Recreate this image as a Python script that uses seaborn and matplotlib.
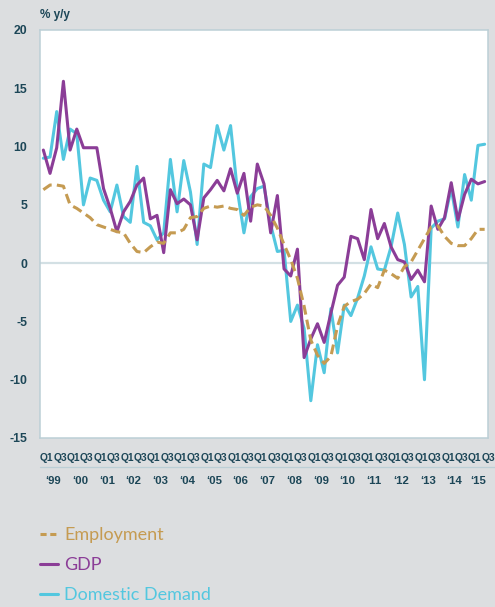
import numpy as np
import pandas as pd
import matplotlib
matplotlib.use("Agg")
import matplotlib.pyplot as plt
import seaborn as sns
from matplotlib.lines import Line2D

# quarterly data, Q1 1999 .. Q3 2015
years = list(range(1999, 2016))
quarters = [f"Q{q} {y}" for y in years for q in range(1, 5)][:67]

employment = [6.3, 6.7, 6.7, 6.6, 5.0, 4.7, 4.3, 3.9, 3.3, 3.1, 2.9, 2.7, 2.6, 1.7, 1.0, 0.9,
              1.4, 1.8, 1.7, 2.6, 2.6, 2.9, 3.9, 4.0, 4.7, 4.9, 4.8, 4.9, 4.7, 4.6, 4.1, 4.8,
              5.0, 4.9, 4.1, 3.0, 1.6, 0.3, -1.3, -3.7, -6.6, -7.9, -8.6, -8.0, -5.4, -3.7, -3.3, -3.1,
              -2.6, -1.8, -2.1, -0.6, -0.9, -1.3, -0.3, 0.1, 1.1, 2.1, 3.1, 3.2, 2.3, 1.7, 1.5, 1.5,
              2.1, 2.9, 2.9]
gdp = [9.7, 7.7, 9.9, 15.6, 9.7, 11.5, 9.9, 9.9, 9.9, 6.4, 4.7, 2.7, 4.4, 5.3, 6.7, 7.3,
       3.8, 4.1, 0.9, 6.3, 5.1, 5.5, 5.0, 2.0, 5.6, 6.3, 7.1, 6.2, 8.1, 6.0, 7.7, 3.6,
       8.5, 6.8, 2.6, 5.8, -0.5, -1.1, 1.2, -8.1, -6.5, -5.2, -6.8, -4.3, -1.9, -1.2, 2.3, 2.1,
       0.3, 4.6, 2.1, 3.4, 1.4, 0.3, 0.1, -1.4, -0.6, -1.6, 4.9, 2.9, 3.9, 6.9, 3.7, 5.9,
       7.2, 6.8, 7.0]
domestic_demand = [9.0, 9.1, 13.0, 8.9, 11.5, 11.1, 5.0, 7.3, 7.1, 5.4, 4.4, 6.7, 4.0, 3.5, 8.3, 3.5,
                   3.2, 2.0, 2.6, 8.9, 4.4, 8.8, 6.1, 1.6, 8.5, 8.2, 11.8, 9.7, 11.8, 6.3, 2.6, 5.7,
                   6.4, 6.6, 3.3, 1.0, 1.1, -5.0, -3.6, -5.6, -11.8, -7.0, -9.4, -3.9, -7.7, -3.6, -4.5, -3.0,
                   -1.1, 1.4, -0.5, -0.6, 1.4, 4.3, 1.6, -2.9, -2.0, -10.0, 3.0, 3.6, 3.8, 6.4, 3.1, 7.6,
                   5.4, 10.1, 10.2]

series = ["Employment", "GDP", "Domestic Demand"]
palette = {"Employment": "#c59b52", "GDP": "#8b3d97", "Domestic Demand": "#53c7df"}
y_ticks = [-15, -10, -5, 0, 5, 10, 15, 20]

bg = "#dcdee0"
txt = "#1c4657"
axis_col = "#bccfd6"

sns.set_style("white")
plt.rcParams["font.family"] = ["Liberation Sans", "DejaVu Sans"]

df = pd.DataFrame({"quarter": quarters, "pos": np.arange(len(quarters)),
                   "Employment": employment, "GDP": gdp, "Domestic Demand": domestic_demand})
long = df.melt(id_vars=["quarter", "pos"], var_name="series", value_name="value")

fig = plt.figure(figsize=(4.95, 6.07), dpi=100, facecolor=bg)
ax = fig.add_axes([40 / 495, 169 / 607, 448 / 495, 408 / 607])
ax.set_facecolor("white")

ax.axhline(0, color="#d3e0e4", lw=1.6, zorder=1)

sns.lineplot(data=long, x="pos", y="value", hue="series", style="series",
             hue_order=["Domestic Demand", "GDP", "Employment"],
             palette=palette, dashes={"Employment": (3.2, 1.7), "GDP": "", "Domestic Demand": ""},
             linewidth=2.2, legend=False, ax=ax, zorder=3)

ax.set_xlim(-0.5, len(quarters) - 0.5)
ax.set_ylim(-15, 20)
ax.set_yticks(y_ticks)
ax.set_yticklabels([str(v) for v in y_ticks], fontsize=8.8, fontweight="bold", color=txt)
ax.set_xlabel("")
ax.set_ylabel("")

for s in ax.spines.values():
    s.set_color(axis_col)
    s.set_linewidth(1.1)

# year separators as long major ticks, quarter marks as minor ticks
year_bounds = np.arange(-0.5, len(quarters), 4)
ax.set_xticks(year_bounds)
ax.set_xticklabels([])
ax.set_xticks(np.arange(-0.5, len(quarters), 1), minor=True)
ax.tick_params(axis="x", which="major", length=34, width=0.9, color=axis_col)
ax.tick_params(axis="x", which="minor", length=5, width=0.9, color=axis_col)
ax.tick_params(axis="y", length=5.8, width=0.9, color=axis_col, pad=3.5)

ax.plot([0, 1.02], [-0.0703, -0.0703], transform=ax.transAxes, color=axis_col,
        lw=0.9, clip_on=False)

xt = ax.get_xaxis_transform()
for k, y in enumerate(years):
    idx = [i for i, q in enumerate(quarters) if q.endswith(str(y))]
    ax.text(np.mean(idx), -0.106, "\u2018" + str(y)[2:], transform=xt, ha="center",
            va="center", fontsize=8.2, fontweight="bold", color=txt)
    for qn in (1, 3):
        p = 4 * k + qn - 0.5
        if p < len(quarters):
            ax.text(p, -0.048, f"Q{qn}", transform=xt, ha="center", va="center",
                    fontsize=7.4, fontweight="bold", color=txt, clip_on=False)

fig.text(40 / 495, 1 - 15 / 607, "% y/y", fontsize=8.5, fontweight="bold",
         color=txt, va="center", ha="left")

handles = [Line2D([], [], color=palette["Employment"], lw=2.2, ls=(0, (2.0, 1.2))),
           Line2D([], [], color=palette["GDP"], lw=2.2),
           Line2D([], [], color=palette["Domestic Demand"], lw=2.2)]
fig.legend(handles, series, loc="upper left", bbox_to_anchor=(40 / 495, 1 - 527 / 607),
           frameon=False, borderpad=0, borderaxespad=0, handlelength=1.0,
           handletextpad=0.35, labelspacing=0.78,
           labelcolor=[palette[s] for s in series],
           prop={"family": "Lato", "size": 13})

fig.savefig("out.png", dpi=100, facecolor=bg)
